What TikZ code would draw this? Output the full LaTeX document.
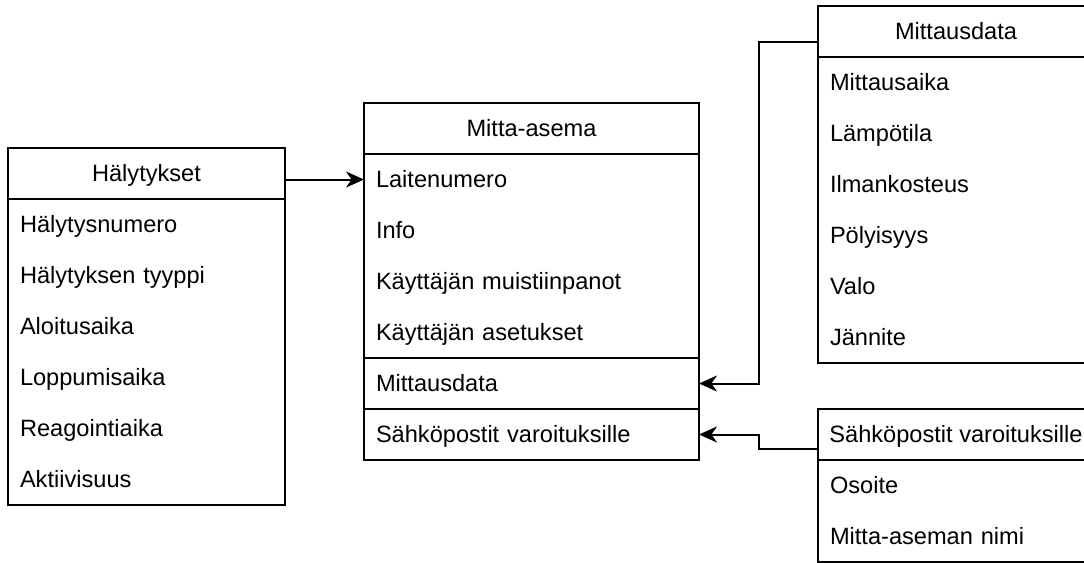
\documentclass[tikz,border=0pt]{standalone}
\usepackage{fontspec}
\setmainfont{Liberation Sans}
\usepackage{xcolor}
\usetikzlibrary{arrows.meta, positioning}
\definecolor{viiva}{HTML}{000000}
\newcommand{\taulufont}{\fontsize{11.8}{14}\selectfont}
\tikzset{
  otsikko/.style={rectangle, draw=viiva, line width=1pt, minimum width=#1,
    minimum height=25.5pt, inner sep=0pt, outer sep=0pt, font=\taulufont,
    text height=9.6pt, text depth=1.6pt, align=center, anchor=north west},
  rivi/.style={rectangle, text width=#1, minimum height=25.5pt, inner xsep=6pt,
    inner ysep=0pt, outer sep=0pt, font=\taulufont, text height=9.6pt,
    text depth=1.6pt, align=left},
  kehys/.style={draw=viiva, line width=1pt},
  nuoli/.style={-{Stealth[length=9pt, width=8pt, inset=2.8pt]}, line width=1pt, color=viiva}
}
\begin{document}
\begin{tikzpicture}[x=0.5pt, y=-0.5pt, node distance=0pt]
    \path[use as bounding box, clip] (0,0) rectangle (1084,563);

    % Hälytykset
    \node[otsikko=138.5pt] (hal) at (8,148) {Hälytykset};
    \node[rivi=126.5pt, below=of hal] (hal1) {Hälytysnumero};
    \node[rivi=126.5pt, below=of hal1] (hal2) {Hälytyksen tyyppi};
    \node[rivi=126.5pt, below=of hal2] (hal3) {Aloitusaika};
    \node[rivi=126.5pt, below=of hal3] (hal4) {Loppumisaika};
    \node[rivi=126.5pt, below=of hal4] (hal5) {Reagointiaika};
    \node[rivi=126.5pt, below=of hal5] (hal6) {Aktiivisuus};
    \draw[kehys] (hal1.north west) rectangle (hal6.south east);

    % Mitta-asema
    \node[otsikko=167.5pt] (ma) at (364,103) {Mitta-asema};
    \node[rivi=155.5pt, below=of ma] (ma1) {Laitenumero};
    \node[rivi=155.5pt, below=of ma1] (ma2) {Info};
    \node[rivi=155.5pt, below=of ma2] (ma3) {Käyttäjän muistiinpanot};
    \node[rivi=155.5pt, below=of ma3] (ma4) {Käyttäjän asetukset};
    \node[rivi=155.5pt, below=of ma4] (ma5) {Mittausdata};
    \node[rivi=155.5pt, below=of ma5] (ma6) {Sähköpostit varoituksille};
    \draw[kehys] (ma1.north west) rectangle (ma6.south east);
    \draw[kehys] (ma4.south west) -- (ma4.south east);
    \draw[kehys] (ma5.south west) -- (ma5.south east);

    % Mittausdata
    \node[otsikko=138pt] (md) at (818,6) {Mittausdata};
    \node[rivi=126pt, below=of md] (md1) {Mittausaika};
    \node[rivi=126pt, below=of md1] (md2) {Lämpötila};
    \node[rivi=126pt, below=of md2] (md3) {Ilmankosteus};
    \node[rivi=126pt, below=of md3] (md4) {Pölyisyys};
    \node[rivi=126pt, below=of md4] (md5) {Valo};
    \node[rivi=126pt, below=of md5] (md6) {Jännite};
    \draw[kehys] (md1.north west) rectangle (md6.south east);

    % Sähköpostit varoituksille
    \node[otsikko=138pt] (sp) at (818,409) {Sähköpostit varoituksille};
    \node[rivi=126pt, below=of sp] (sp1) {Osoite};
    \node[rivi=126pt, below=of sp1] (sp2) {Mitta-aseman nimi};
    \draw[kehys] (sp1.north west) rectangle (sp2.south east);

    \coordinate (mutka) at (759,0);

    \draw[nuoli] (hal.east |- ma1.west) -- (ma1.west);
    \draw[nuoli] ([yshift=-5.25pt]md.west) -| (mutka |- ma5.east) -- (ma5.east);
    \draw[nuoli] ([yshift=-7.25pt]sp.west) -| (mutka |- ma6.east) -- (ma6.east);
\end{tikzpicture}
\end{document}
